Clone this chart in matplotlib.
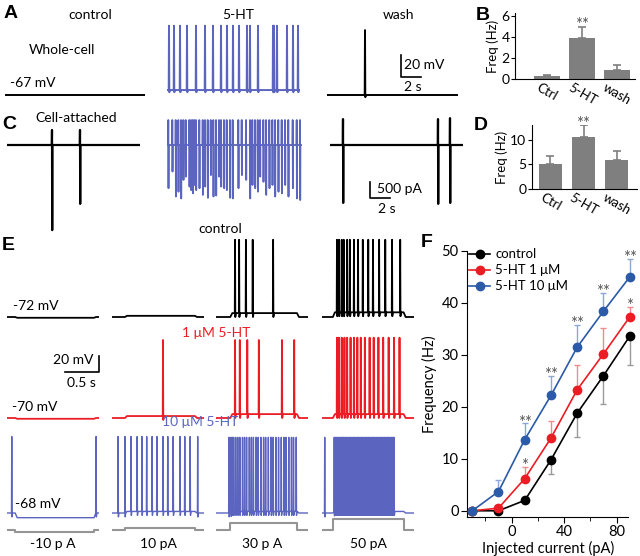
import numpy as np
import matplotlib.pyplot as plt

plt.rcParams['font.family'] = ['Lato', 'DejaVu Sans']

# ---- data ----
# B, D: firing frequency (Hz)
bar_labels = ['Ctrl', '5-HT', 'wash']
freq_wc = [0.25, 3.9, 0.9]
freq_wc_err = [0.1, 1.1, 0.45]
freq_ca = [5.1, 10.5, 5.9]
freq_ca_err = [1.7, 2.4, 1.9]

# F: f-I curves
inj_current = [-30, -10, 10, 30, 50, 70, 90]
f_control = [0, 0, 2.0, 9.8, 18.8, 26.0, 33.6]
f_control_err = [0, 0, 0.5, 2.8, 4.6, 5.5, 5.5]
f_1uM = [0, 0.5, 6.2, 14.0, 23.3, 30.2, 37.3]
f_1uM_err = [0, 0, 2.3, 3.3, 4.8, 5.0, 2.0]
f_10uM = [0, 3.7, 13.7, 22.2, 31.5, 38.4, 45.0]
f_10uM_err = [0, 2.3, 3.1, 3.8, 4.3, 3.6, 3.4]
stars_1uM = ['', '', '*', '', '', '', '*']
stars_10uM = ['', '', '**', '**', '**', '**', '**']

# A: whole-cell traces (s, mV)
a_dur = [14.0, 13.3, 13.1]
a_base = [-67, -62.5, -67]
a_peak = [-4, -4, -8]
a_spikes = [
    [],
    [0.2, 0.7, 1.3, 2.0, 2.9, 3.8, 4.6, 5.4, 6.0, 6.6, 7.2, 8.0, 8.3, 9.1,
     10.6, 10.7, 11.0, 12.0, 12.6, 13.1],
    [3.8],
]

# C: cell-attached traces (s, pA)
c_dur = [13.3, 13.5, 13.3]
c_spikes = [
    [4.5, 7.3],
    [0.13, 0.53, 0.87, 1.13, 1.40, 1.63, 1.87, 2.23, 2.40, 2.57, 2.73, 2.90,
     3.23, 3.57, 3.80, 4.07, 4.37, 4.63, 4.90, 5.20, 5.40, 5.70, 5.97, 6.30,
     6.57, 7.13, 7.47, 7.90, 8.30, 8.53, 8.80, 9.07, 9.30, 9.63, 9.90, 10.23,
     10.53, 10.80, 11.13, 11.47, 11.80, 12.13, 12.57, 12.97, 13.30],
    [1.3, 10.8, 12.0],
]
c_up = [[470, 470], [780] * 45, [810, 810, 840]]
c_down = [
    [2660, 1840],
    [1350, 830, 1610, 1460, 1670, 1090, 990, 1300, 1410, 1510, 1250, 1410,
     1350, 1560, 1300, 1650, 940, 1610, 1580, 990, 1300, 1350, 1410, 1650,
     1670, 1350, 940, 1090, 1670, 1250, 1350, 1460, 990, 1150, 1560, 1350,
     1250, 1610, 1460, 1510, 1250, 1610, 1350, 1670, 1720],
    [1810, 1840, 1810],
]

# E: current-clamp steps (s, mV, pA)
e_labels = ['-10 p A', '10 pA', '30 p A', '50 pA']
e_step_pa = [-10, 10, 30, 50]
e_step_on = [0.12, 0.19, 0.21, 0.16]
e_step_off = [1.28, 1.22, 1.19, 1.20]
e_dur = 1.36
e_ctrl_spikes = [
    [], [],
    [0.28, 0.34, 0.44, 0.54, 0.84],
    [0.22, 0.25, 0.29, 0.32, 0.37, 0.41, 0.47, 0.53, 0.60, 0.68, 0.75, 0.84,
     0.93, 1.03, 1.15],
]
e_1uM_spikes = [
    [], [0.75],
    [0.28, 0.35, 0.46, 0.63, 0.97, 1.15],
    [0.22, 0.25, 0.29, 0.33, 0.37, 0.42, 0.47, 0.52, 0.57, 0.63, 0.70, 0.76,
     0.83, 0.90, 0.98, 1.06, 1.14],
]
e_10uM_spikes = [
    [0.07, 1.31],
    [0.09, 0.19, 0.28, 0.37, 0.44, 0.51, 0.59, 0.66, 0.75, 0.82, 0.90, 1.00,
     1.07, 1.15, 1.26],
    [0.19, 0.22, 0.24, 0.26, 0.29, 0.32, 0.35, 0.39, 0.42, 0.45, 0.49, 0.52,
     0.55, 0.59, 0.62, 0.66, 0.70, 0.73, 0.77, 0.81, 0.84, 0.88, 0.92, 0.96,
     1.00, 1.03, 1.07, 1.11, 1.14, 1.18],
    [0.04, 0.18, 0.19, 0.21, 0.23, 0.25, 0.27, 0.29, 0.31, 0.32, 0.34, 0.36,
     0.38, 0.40, 0.42, 0.44, 0.46, 0.48, 0.50, 0.52, 0.54, 0.56, 0.58, 0.60,
     0.62, 0.64, 0.66, 0.68, 0.70, 0.72, 0.74, 0.76, 0.78, 0.80, 0.82, 0.84,
     0.86, 0.88, 0.90, 0.92, 0.94, 0.96, 0.98, 1.00, 1.02, 1.04, 1.06],
]
e_ctrl_dv = [-1, 1.5, 5, 6]
e_1uM_dv = [-1, 2.5, 5, 5]
e_10uM_dv = [-6, 2, 2, 2]
e_1uM_peak = [30, 30, 30, 33]
e_10uM_peak = [30, 30, 29, 29]

# ---- layout helpers (pixel coordinates of a 640x556 canvas) ----
W, H = 640, 556
fig = plt.figure(figsize=(W / 100, H / 100), dpi=100)

BLUE_TR = '#5b64bf'
RED = '#ec1c24'
BLUE = '#2b5aa8'
GRAY = '#7f7f7f'
STAR = '#555555'


def box(x0, y0, x1, y1):
    return [x0 / W, 1 - y1 / H, (x1 - x0) / W, (y1 - y0) / H]


def label(x, y, s, **kw):
    kw.setdefault('fontsize', 10)
    kw.setdefault('ha', 'center')
    kw.setdefault('va', 'center')
    fig.text(x / W, 1 - y / H, s, **kw)


def letter(x, y, s):
    label(x, y, s, fontsize=14, fontweight='bold', family='Liberation Sans')


def trace_ax(x0, dur, pps, y_ref, v_ref, ppv, above, below):
    ax = fig.add_axes(box(x0, y_ref - above, x0 + dur * pps, y_ref + below))
    ax.set_xlim(0, dur)
    ax.set_ylim(v_ref - below / ppv, v_ref + above / ppv)
    ax.axis('off')
    return ax


def vm_trace(dur, v0, spikes, peak, step=None, dv=0.0, w=0.004, ahp=5.0, ramp=0.03):
    bt, bv = [0, dur], [v0, v0]
    if step is not None:
        on, off = step
        bt = [0, on, on + ramp, off, off + ramp, dur]
        bv = [v0, v0, v0 + dv, v0 + dv, v0, v0]
    t, v = list(bt), list(bv)
    for s in spikes:
        b = float(np.interp(s, bt, bv))
        t += [s - w, s, s + w, s + 3 * w]
        v += [b, peak, b - ahp, b]
    order = np.argsort(t, kind='stable')
    return np.array(t)[order], np.array(v)[order]


def ca_trace(dur, spikes, up, down, w=0.02):
    t, v = [0, dur], [0, 0]
    for s, u, d in zip(spikes, up, down):
        t += [s - w, s, s + w, s + 2 * w]
        v += [0, u, -d, 0]
    order = np.argsort(t, kind='stable')
    return np.array(t)[order], np.array(v)[order]


# ---- A ----
letter(11, 13, 'A')
label(90, 15, 'control')
label(238, 15, '5-HT')
label(399, 15, 'wash')
label(62, 50, 'Whole-cell')
label(10, 83, '-67 mV', ha='left')
a_x0 = [5, 167, 327]
a_col = ['k', BLUE_TR, 'k']
for i in range(3):
    ax = trace_ax(a_x0[i], a_dur[i], 10, 95, -67, 1.1, 80, 10)
    t, v = vm_trace(a_dur[i], a_base[i], a_spikes[i], a_peak[i], w=0.03, ahp=2)
    ax.plot(t, v, color=a_col[i], lw=1.4)
    if i == 2:
        ax.plot([7.4, 7.4, 9.4], [-30.6, -50.6, -50.6], color='k', lw=1.2, clip_on=False)
        ax.text(7.7, -40, '20 mV', fontsize=10, va='center')
        ax.text(8.6, -60, '2 s', fontsize=10, va='center', ha='center')

# ---- C ----
letter(9, 125, 'C')
label(76, 118, 'Cell-attached')
c_x0 = [7, 167, 330]
c_col = ['k', BLUE_TR, 'k']
for i in range(3):
    ax = trace_ax(c_x0[i], c_dur[i], 10, 145, 0, 0.032, 30, 90)
    t, v = ca_trace(c_dur[i], c_spikes[i], c_up[i], c_down[i])
    ax.plot(t, v, color=c_col[i], lw=1.6 if i != 1 else 1.3)
    if i == 2:
        ax.plot([4.0, 4.0, 6.0], [-1150, -1650, -1650], color='k', lw=1.2, clip_on=False)
        ax.text(4.7, -1380, '500 pA', fontsize=10, va='center')
        ax.text(5.7, -2000, '2 s', fontsize=10, va='center', ha='center')


# ---- B, D ----
def bar_panel(rect, vals, errs, ylim, yticks, star_y):
    ax = fig.add_axes(box(*rect))
    x = np.arange(len(vals))
    ax.bar(x, vals, width=0.72, color=GRAY)
    ax.errorbar(x, vals, yerr=[[0] * len(vals), errs], fmt='none',
                ecolor=GRAY, capsize=3, elinewidth=1.2, capthick=1.2)
    ax.text(1, star_y, '**', ha='center', va='baseline', fontsize=12, color=STAR)
    ax.set_ylim(*ylim)
    ax.set_yticks(yticks)
    ax.set_xticks(x)
    ax.set_xticklabels(bar_labels, rotation=-30, ha='center', fontsize=9.5)
    ax.tick_params(axis='x', length=0, pad=2)
    ax.tick_params(axis='y', length=3, labelsize=10, pad=1)
    ax.set_ylabel('Freq (Hz)', fontsize=9.5, labelpad=2)
    for s in ['top', 'right']:
        ax.spines[s].set_visible(False)
    return ax


letter(483, 15, 'B')
axb = bar_panel((515, 13, 635, 79), freq_wc, freq_wc_err, (0, 6.3), [0, 2, 4, 6], 4.7)
axb.set_xlim(-0.91, 2.51)
letter(481, 126, 'D')
axd = bar_panel((532, 125, 637, 189), freq_ca, freq_ca_err, (0, 13), [0, 5, 10], 12.2)
axd.set_xlim(-0.56, 2.62)

# ---- E ----
letter(8, 246, 'E')
label(220, 229, 'control')
label(216, 333, '1 μM 5-HT', color=RED)
label(200, 422, '10 μM 5-HT', color=BLUE_TR)
label(13, 306, '-72 mV', ha='left')
label(12, 407, '-70 mV', ha='left')
label(15, 504, '-68 mV', ha='left')
e_x0 = [7, 112, 216, 322]
for j in range(4):
    step = (e_step_on[j], e_step_off[j])
    ax = trace_ax(e_x0[j], e_dur, 68, 317, -72, 0.78, 90, 10)
    t, v = vm_trace(e_dur, -72, e_ctrl_spikes[j], 27, step, e_ctrl_dv[j])
    ax.plot(t, v, color='k', lw=1.3)

    ax = trace_ax(e_x0[j], e_dur, 68, 418, -70, 0.78, 90, 10)
    t, v = vm_trace(e_dur, -70, e_1uM_spikes[j], e_1uM_peak[j], step, e_1uM_dv[j])
    ax.plot(t, v, color=RED, lw=1.3)
    if j == 0:
        ax.plot([0.85, 1.35, 1.35], [-11, -11, 9], color='k', lw=1.2, clip_on=False)
        ax.text(1.27, 4.4, '20 mV', fontsize=10, ha='right', va='center')
        ax.text(1.09, -25, '0.5 s', fontsize=10, ha='center', va='center')

    ax = trace_ax(e_x0[j], e_dur, 68, 513, -68, 0.78, 90, 10)
    t, v = vm_trace(e_dur, -68, e_10uM_spikes[j], e_10uM_peak[j], step, e_10uM_dv[j])
    ax.plot(t, v, color=BLUE_TR, lw=1.0)

    ax = trace_ax(e_x0[j], e_dur, 68, 530, 0, 0.22, 15, 5)
    ax.plot([0, step[0], step[0], step[1], step[1], e_dur],
            [0, 0, e_step_pa[j], e_step_pa[j], 0, 0], color='#959595', lw=1.5)
    label(e_x0[j] + 46, 544, e_labels[j])

# ---- F ----
letter(427, 243, 'F')
axf = fig.add_axes(box(467, 251, 628.4, 517))
series = [(f_control, f_control_err, 'k', '#9a9a9a', 'control', False),
          (f_1uM, f_1uM_err, RED, '#f08a8d', '5-HT 1 μM', True),
          (f_10uM, f_10uM_err, BLUE, '#8ea6d4', '5-HT 10 μM', True)]
for y, e, c, ec, name, up in series:
    zeros = [0] * len(e)
    yerr = [zeros, e] if up else [e, zeros]
    axf.errorbar(inj_current, y, yerr=yerr, fmt='none', ecolor=ec, capsize=2.5,
                 elinewidth=1.0, capthick=1.0, zorder=1, clip_on=False)
    axf.plot(inj_current, y, '-o', color=c, lw=1.2, ms=6, label=name, zorder=3,
             clip_on=False)
for ys, es, stars in [(f_10uM, f_10uM_err, stars_10uM), (f_1uM, f_1uM_err, stars_1uM)]:
    for x, y, e, s in zip(inj_current, ys, es, stars):
        if s:
            axf.text(x, y + e - 0.8, s, ha='center', va='baseline', fontsize=12,
                     color=STAR, clip_on=False)
axf.set_xlim(-34, 89)
axf.set_ylim(-1.2, 50)
axf.set_xticks([0, 40, 80])
axf.set_xticks([-20, 20, 60], minor=True)
axf.set_yticks([0, 10, 20, 30, 40, 50])
axf.tick_params(which='both', direction='out', length=4, labelsize=10.5, pad=2)
axf.tick_params(which='minor', length=3)
axf.set_xlabel('Injected current (pA)', fontsize=10.5, labelpad=1)
axf.set_ylabel('Frequency (Hz)', fontsize=10.5, labelpad=3)
for s in ['top', 'right']:
    axf.spines[s].set_visible(False)
axf.legend(frameon=False, loc='upper left', bbox_to_anchor=(-0.02, 1.03),
           fontsize=9.5, handlelength=1.6, handletextpad=0.4, labelspacing=0.3,
           borderaxespad=0)

fig.savefig('out.png', dpi=100)
